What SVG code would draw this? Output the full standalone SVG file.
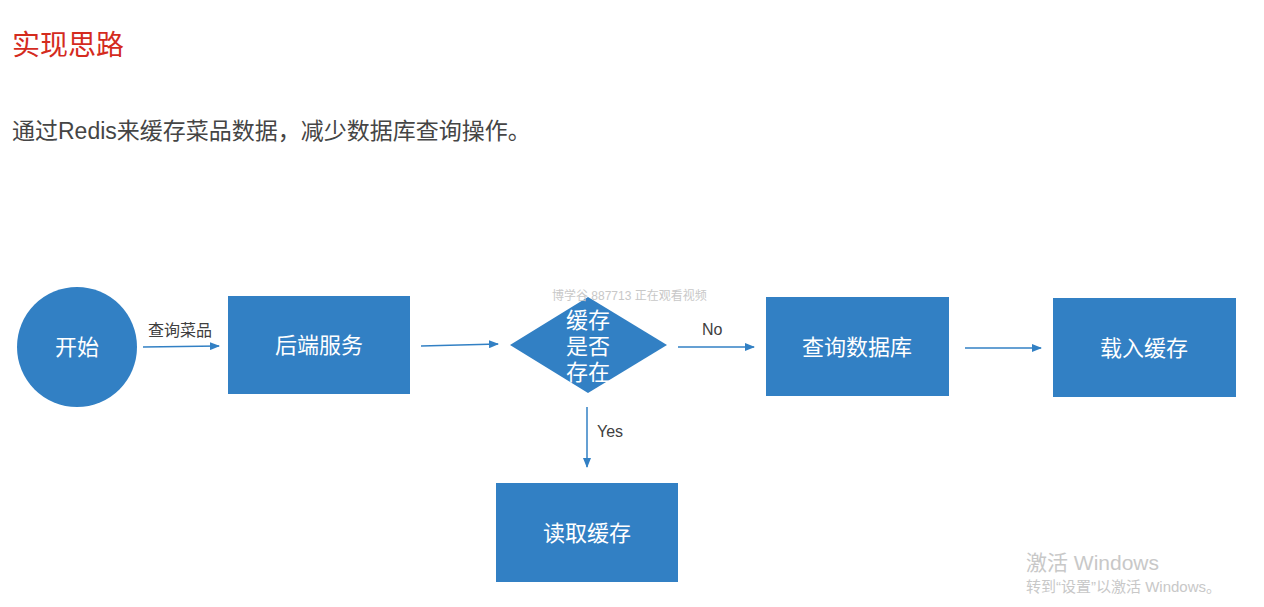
<svg xmlns="http://www.w3.org/2000/svg" width="1264" height="607" viewBox="0 0 1264 607">
<defs>
<style>
.node{fill:#3280c4;}
.nt{fill:#ffffff;font-family:"Liberation Sans","Noto Sans CJK SC",sans-serif;font-size:22px;text-anchor:middle;}
.lbl{fill:#404040;font-family:"Liberation Sans","Noto Sans CJK SC",sans-serif;font-size:16px;}
.edge{stroke:#3280c4;stroke-width:1.5;fill:none;marker-end:url(#ah);}
.wm{fill:#c8c8c8;font-family:"Liberation Sans","Noto Sans CJK SC",sans-serif;}
</style>
<marker id="ah" markerWidth="10" markerHeight="8" refX="9" refY="4" orient="auto" markerUnits="userSpaceOnUse">
<path d="M0,0 L10,4 L0,8 z" fill="#3280c4"/>
</marker>
</defs>
<rect width="1264" height="607" fill="#ffffff"/>
<text x="12" y="55" font-family="Liberation Sans,Noto Sans CJK SC,sans-serif" font-size="28" fill="#d42b1e">实现思路</text>
<text x="12" y="139" font-family="Liberation Sans,Noto Sans CJK SC,sans-serif" font-size="23" fill="#454545">通过Redis来缓存菜品数据，减少数据库查询操作。</text>
<g id="connectors">
<line class="edge" x1="143" y1="347" x2="219" y2="346"/>
<line class="edge" x1="421" y1="346" x2="498" y2="344"/>
<line class="edge" x1="678" y1="347" x2="754" y2="347"/>
<line class="edge" x1="965" y1="348" x2="1041" y2="348"/>
<line class="edge" x1="587" y1="407" x2="587" y2="467"/>
<text class="lbl" x="148" y="336">查询菜品</text>
<text class="lbl" x="702" y="335">No</text>
<text class="lbl" x="597" y="437">Yes</text>
</g>
<g id="start">
<circle class="node" cx="77" cy="347" r="60"/>
<text class="nt" x="77" y="355">开始</text>
</g>
<g id="backend">
<rect class="node" x="228" y="296" width="182" height="98"/>
<text class="nt" x="319" y="353">后端服务</text>
</g>
<g id="decision">
<polygon class="node" points="588,297 667,345 588,393 510,345"/>
<text class="nt" x="588" y="328">缓存</text>
<text class="nt" x="588" y="354">是否</text>
<text class="nt" x="588" y="380">存在</text>
</g>
<g id="querydb">
<rect class="node" x="766" y="297" width="183" height="99"/>
<text class="nt" x="857" y="355">查询数据库</text>
</g>
<g id="loadcache">
<rect class="node" x="1053" y="298" width="183" height="99"/>
<text class="nt" x="1144" y="356">载入缓存</text>
</g>
<g id="readcache">
<rect class="node" x="496" y="483" width="182" height="99"/>
<text class="nt" x="587" y="541">读取缓存</text>
</g>
<text class="wm" x="552" y="300" font-size="12">博学谷 887713 正在观看视频</text>
<text class="wm" x="1026" y="570" font-size="21">激活 Windows</text>
<text class="wm" x="1026" y="592" font-size="15">转到“设置”以激活 Windows。</text>
</svg>
